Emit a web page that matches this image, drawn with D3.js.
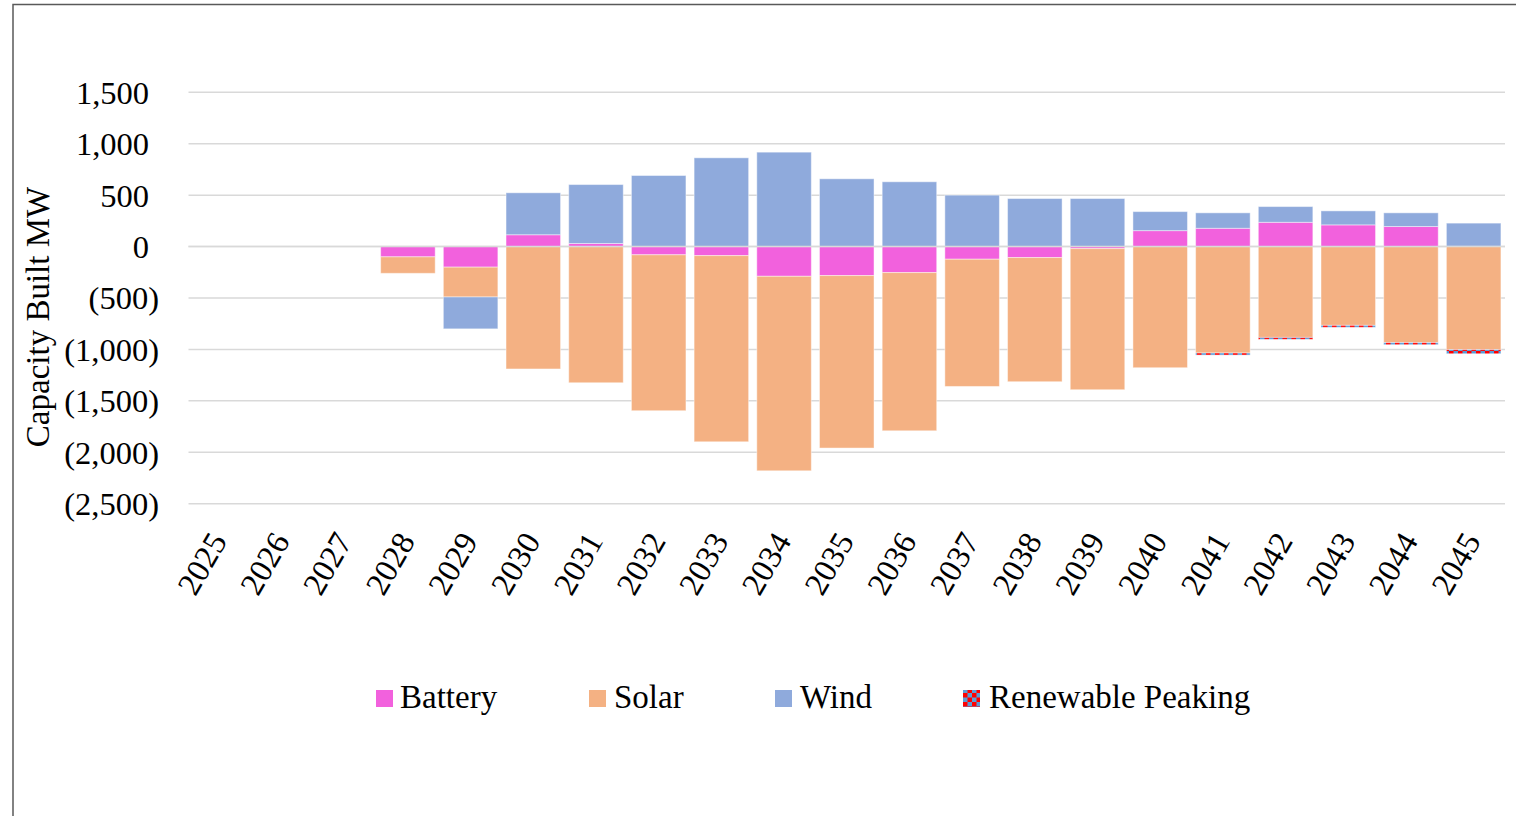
<!DOCTYPE html>
<html><head><meta charset="utf-8">
<script src="https://cdn.jsdelivr.net/npm/d3@7"></script>
<style>body{margin:0;background:#fff}svg{display:block}text{font-family:"Liberation Serif","Times New Roman",serif;fill:#000}</style>
</head><body>
<svg id="c" width="1516" height="816"></svg>
<script>
const years = ["2025","2026","2027","2028","2029","2030","2031","2032","2033","2034","2035","2036","2037","2038","2039","2040","2041","2042","2043","2044","2045"];
const battery = [0,0,0,-100,-200,115,30,-80,-88,-289,-282,-253,-123,-107,-20,155,178,236,211,195,3];
const solar   = [0,0,0,-160,-290,-1190,-1324,-1516,-1810,-1891,-1677,-1538,-1237,-1207,-1372,-1178,-1035,-883,-766,-934,-1002];
const wind    = [0,0,0,0,-310,408,573,691,863,918,659,630,500,467,467,185,150,153,136,133,225];
const peaking = [0,0,0,0,0,0,0,0,0,0,0,0,0,0,0,0,-20,-19,-19,-20,-40];
const seriesNames = ["Battery","Solar","Wind","Renewable Peaking"];
const yTicks = [-2500,-2000,-1500,-1000,-500,0,500,1000,1500];

const svg = d3.select("#c");
const defs = svg.append("defs");
const pat = defs.append("pattern").attr("id","chk").attr("patternUnits","userSpaceOnUse").attr("width",9).attr("height",9);
pat.append("rect").attr("width",9).attr("height",9).attr("fill","#5B9BD5");
pat.append("rect").attr("width",4.5).attr("height",4.5).attr("fill","#FF0000");
pat.append("rect").attr("x",4.5).attr("y",4.5).attr("width",4.5).attr("height",4.5).attr("fill","#FF0000");
const colors = ["#F261DD","#F4B183","#8FAADC","url(#chk)"];

// border
svg.append("rect").attr("x",13).attr("y",4.5).attr("width",1600).attr("height",1000)
  .attr("fill","none").attr("stroke","#595959").attr("stroke-width",1.5);

const x = d3.scaleBand().domain(years).range([188.5,1505]).paddingInner(0.13).paddingOuter(0.065);
const y = d3.scaleLinear().domain([-2500,1500]).range([503.7,92.3]);

// gridlines
svg.append("g").selectAll("line").data(yTicks).join("line")
  .attr("x1",188.5).attr("x2",1505).attr("y1",d=>y(d)).attr("y2",d=>y(d))
  .attr("stroke","#D9D9D9").attr("stroke-width",1.5);

const fmt = d3.format(",");
svg.append("g").selectAll("text").data(yTicks).join("text")
  .attr("x",d=>d<0?159:149).attr("y",d=>y(d)).attr("dy","0.35em")
  .attr("text-anchor","end").attr("font-size",32.5)
  .text(d=>d<0?"("+fmt(-d)+")":fmt(d));

const table = years.map((yr,i)=>({year:yr,Battery:battery[i],Solar:solar[i],Wind:wind[i],"Renewable Peaking":peaking[i]}));
const stack = d3.stack().keys(seriesNames).offset(d3.stackOffsetDiverging)(table);

svg.append("g").selectAll("g").data(stack).join("g")
  .attr("fill",(d,i)=>colors[i])
  .selectAll("rect").data(d=>d).join("rect")
  .attr("x",d=>x(d.data.year)).attr("width",x.bandwidth())
  .attr("y",d=>y(Math.max(d[0],d[1])))
  .attr("height",d=>Math.abs(y(d[0])-y(d[1])))
  .attr("stroke","#ffffff").attr("stroke-opacity",0.45).attr("stroke-width",1);

// zero line on top
svg.append("line").attr("x1",188.5).attr("x2",1505).attr("y1",y(0)).attr("y2",y(0))
  .attr("stroke","#D9D9D9").attr("stroke-width",1.5);

// x labels
svg.append("g").selectAll("text").data(years).join("text")
  .attr("transform",d=>`translate(${x(d)+x.bandwidth()/2+8},541) rotate(-60)`)
  .attr("text-anchor","end").attr("font-size",32.5).text(d=>d);

// y title
svg.append("text").attr("transform","translate(49,317) rotate(-90)")
  .attr("text-anchor","middle").attr("font-size",33).text("Capacity Built MW");

// legend
const legX = [[376,400],[589,614],[775,800],[963,989]];
const leg = svg.append("g").selectAll("g").data(seriesNames).join("g");
leg.append("rect").attr("x",(d,i)=>legX[i][0]).attr("y",690).attr("width",17).attr("height",17)
  .attr("fill",(d,i)=>colors[i]);
leg.append("text").attr("x",(d,i)=>legX[i][1]).attr("y",708).attr("font-size",33).text(d=>d);
</script>
</body></html>
